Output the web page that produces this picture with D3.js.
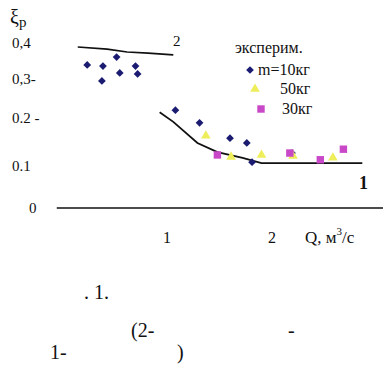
<!DOCTYPE html>
<html>
<head>
<meta charset="utf-8">
<script src="https://cdn.jsdelivr.net/npm/d3@7"></script>
<style>
  body { margin: 0; background: #fff; }
  text { font-family: "Liberation Serif", "Times New Roman", serif; fill: #111; }
</style>
</head>
<body>
<div id="chart"></div>
<script>
// tick labels as printed on the figure
const yTicks = [0, 0.1, 0.2, 0.3, 0.4];
const yTickLabels = ["0", "0.1", "0.2 -", "0,3-", "0,4"];
const xTicks = [1, 2];

// theory curves (Q, xi)
const curve2 = [[0.15, 0.389], [0.43, 0.383], [0.62, 0.375], [0.82, 0.372], [1.06, 0.367]];
const curve1 = [[0.93, 0.215], [1.06, 0.192], [1.29, 0.148], [1.48, 0.129], [1.72, 0.117], [1.90, 0.106], [2.86, 0.106]];

// experiments
const m10 = [[0.24, 0.339], [0.39, 0.336], [0.52, 0.361], [0.38, 0.295], [0.55, 0.317], [0.70, 0.336], [0.72, 0.314],
             [1.08, 0.22], [1.31, 0.19], [1.60, 0.158], [1.76, 0.148], [1.81, 0.108], [2.19, 0.127]];
const m50 = [[1.37, 0.163], [1.61, 0.119], [1.90, 0.123], [2.20, 0.121], [2.58, 0.117]];
const m30 = [[1.48, 0.123], [2.17, 0.127], [2.46, 0.113], [2.68, 0.135]];

const legendLabels = ["m=10кг", "50кг", "30кг"];
const colors = ["#1b1b72", "#eeee5a", "#c848c8"];

const width = 383, height = 371;
const svg = d3.select("#chart").append("svg")
    .attr("width", width)
    .attr("height", height);

const x = d3.scaleLinear().domain([0, 1]).range([62, 167]);
// scanned figure: axis spacing is uneven, so piecewise scale
const y = d3.scaleLinear().domain(yTicks).range([208, 166, 118, 79, 43]);

// axis line
svg.append("line")
    .attr("x1", x(-0.05)).attr("x2", width)
    .attr("y1", y(0)).attr("y2", y(0))
    .attr("stroke", "#111").attr("stroke-width", 1.5);

svg.selectAll(".yLabel")
    .data(yTicks)
    .enter().append("text")
    .attr("class", "yLabel")
    .attr("x", (d, i) => i === 0 ? 29 : 12)
    .attr("y", d => y(d) + 5)
    .attr("font-size", "15px")
    .text((d, i) => yTickLabels[i]);

svg.selectAll(".xLabel")
    .data(xTicks)
    .enter().append("text")
    .attr("class", "xLabel")
    .attr("x", d => x(d))
    .attr("y", 243)
    .attr("text-anchor", "middle")
    .attr("font-size", "16px")
    .text(d => d);

// axis titles
const yt = svg.append("text").attr("x", 10).attr("y", 24).attr("font-size", "20px");
yt.append("tspan").text("ξ");
yt.append("tspan").attr("font-size", "15px").attr("dy", 3).text("p");

const xt = svg.append("text").attr("x", 305).attr("y", 243).attr("font-size", "17px");
xt.append("tspan").text("Q, м");
xt.append("tspan").attr("font-size", "11px").attr("dy", -8).text("3");
xt.append("tspan").attr("dy", 8).text("/с");

// curves
const line = d3.line().x(d => x(d[0])).y(d => y(d[1]));
svg.append("path").datum(curve2)
    .attr("d", line).attr("fill", "none")
    .attr("stroke", "#111").attr("stroke-width", 1.6);
svg.append("path").datum(curve1)
    .attr("d", line).attr("fill", "none")
    .attr("stroke", "#111").attr("stroke-width", 1.8);

svg.append("text").attr("x", 173).attr("y", 46)
    .attr("font-size", "15px").text("2");
svg.append("text").attr("x", 359).attr("y", 189)
    .attr("font-size", "18px").attr("font-weight", "bold").text("1");

// points
const diamond = d3.symbol().type(d3.symbolSquare).size(30);
const tri = d3.symbol().type(d3.symbolTriangle).size(40);
const sq = d3.symbol().type(d3.symbolSquare).size(55);

svg.selectAll(".p10").data(m10).enter().append("path")
    .attr("class", "p10")
    .attr("d", diamond)
    .attr("transform", d => `translate(${x(d[0])},${y(d[1])}) rotate(45)`)
    .attr("fill", colors[0]);
svg.selectAll(".p50").data(m50).enter().append("path")
    .attr("class", "p50")
    .attr("d", tri)
    .attr("transform", d => `translate(${x(d[0])},${y(d[1])})`)
    .attr("fill", colors[1]);
svg.selectAll(".p30").data(m30).enter().append("path")
    .attr("class", "p30")
    .attr("d", sq)
    .attr("transform", d => `translate(${x(d[0])},${y(d[1])})`)
    .attr("fill", colors[2]);

// legend
svg.append("text").attr("x", 235).attr("y", 53)
    .attr("font-size", "16px").text("эксперим.");
const legY = [70, 89, 109];
const legMX = [250, 255, 261];
const legTX = [258, 280, 282];
const legShapes = [diamond, tri, sq];
const legRot = [45, 0, 0];
legendLabels.forEach((lbl, i) => {
    svg.append("path")
        .attr("d", legShapes[i])
        .attr("transform", `translate(${legMX[i]},${legY[i]}) rotate(${legRot[i]})`)
        .attr("fill", colors[i]);
    svg.append("text")
        .attr("x", legTX[i]).attr("y", legY[i] + 5)
        .attr("font-size", "16px").text(lbl);
});

// caption fragments
const caption = [
    { t: ". 1.", x: 84, y: 299 },
    { t: "(2-", x: 131, y: 337 },
    { t: "-", x: 288, y: 337 },
    { t: "1-", x: 50, y: 359 },
    { t: ")", x: 177, y: 359 }
];
svg.selectAll(".cap").data(caption).enter().append("text")
    .attr("class", "cap")
    .attr("x", d => d.x).attr("y", d => d.y)
    .attr("font-size", "20px")
    .text(d => d.t);
</script>
</body>
</html>
